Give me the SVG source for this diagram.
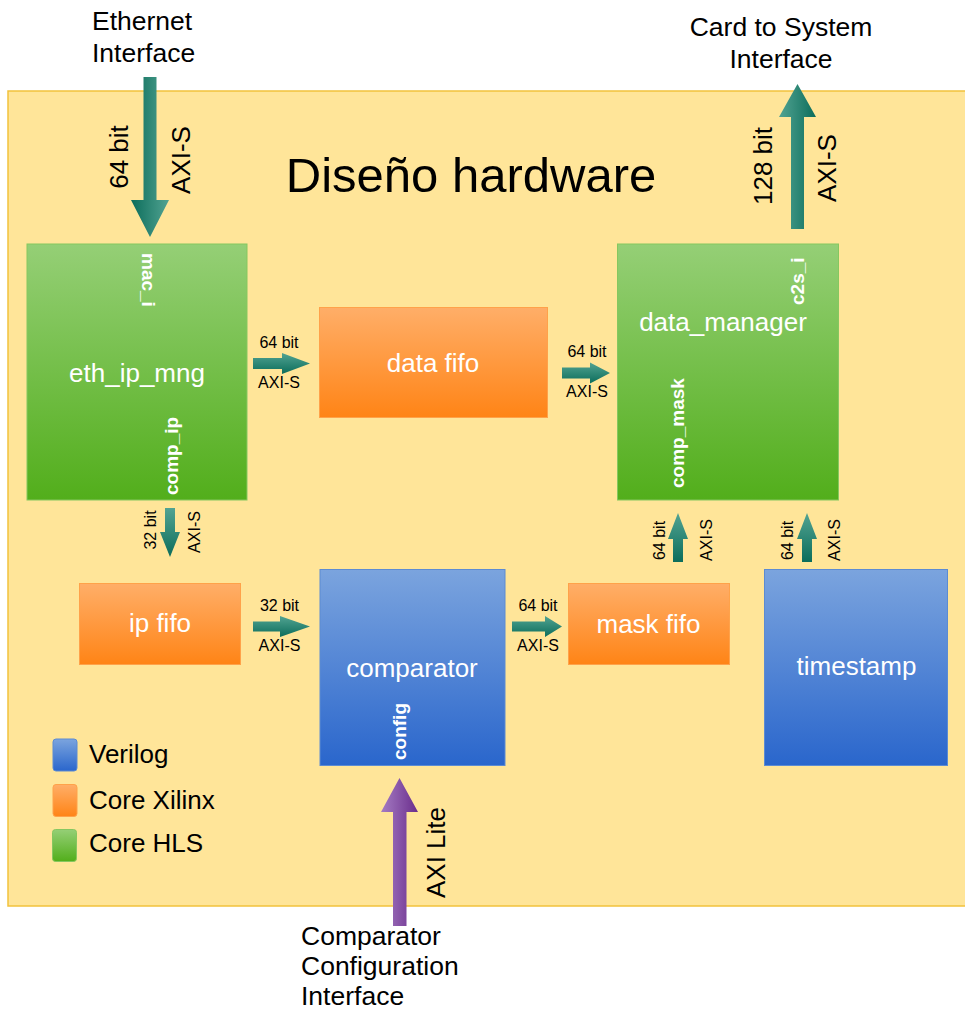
<svg xmlns="http://www.w3.org/2000/svg" width="965" height="1012" viewBox="0 0 965 1012">
<defs>
<linearGradient id="gGreen" x1="0" y1="0" x2="0" y2="1"><stop offset="0" stop-color="#95cf76"/><stop offset="1" stop-color="#52ae1b"/></linearGradient>
<linearGradient id="gOrange" x1="0" y1="0" x2="0" y2="1"><stop offset="0" stop-color="#ffae68"/><stop offset="1" stop-color="#ff8416"/></linearGradient>
<linearGradient id="gBlue" x1="0" y1="0" x2="0" y2="1"><stop offset="0" stop-color="#7ba4de"/><stop offset="1" stop-color="#2a66cc"/></linearGradient>
<linearGradient id="tV" x1="0" y1="0" x2="0" y2="1"><stop offset="0" stop-color="#52a392"/><stop offset="1" stop-color="#0c6d5b"/></linearGradient>
<linearGradient id="tLD" x1="0" y1="0" x2="1" y2="0"><stop offset="0" stop-color="#0c6d5b"/><stop offset="1" stop-color="#52a392"/></linearGradient>
<linearGradient id="tLL" x1="0" y1="0" x2="1" y2="0"><stop offset="0" stop-color="#52a392"/><stop offset="1" stop-color="#0c6d5b"/></linearGradient>
<linearGradient id="pLL" x1="0" y1="0" x2="1" y2="0"><stop offset="0" stop-color="#a57cc3"/><stop offset="1" stop-color="#6a2d8c"/></linearGradient>
</defs>
<style>
text{font-family:"Liberation Sans",Arial,sans-serif;}
.ext{font-size:26.5px;fill:#000;}
.lbl{font-size:26px;fill:#fff;}
.port{font-size:19px;font-weight:bold;fill:#fff;}
.sm{font-size:16px;fill:#000;}
.big{font-size:26px;fill:#000;}
.hls{fill:url(#gGreen);stroke:#86c760;stroke-width:1;}
.xil{fill:url(#gOrange);stroke:#ffa24a;stroke-width:1;}
.ver{fill:url(#gBlue);stroke:#5c8bd2;stroke-width:1;}
</style>
<rect x="8" y="91" width="965" height="815" fill="#ffe599" stroke="#f2c23c" stroke-width="1.5"/>
<text x="471" y="192" font-size="49" fill="#000" text-anchor="middle" style="font-size:49px">Diseño hardware</text>

<g id="ext-ethernet">
<text class="ext" x="92" y="30">Ethernet</text>
<text class="ext" x="92" y="62">Interface</text>
</g>
<g id="ext-c2s">
<text class="ext" x="781" y="36" text-anchor="middle">Card to System</text>
<text class="ext" x="781" y="68" text-anchor="middle">Interface</text>
</g>
<g id="ext-config">
<text class="ext" x="301" y="945">Comparator</text>
<text class="ext" x="301" y="975">Configuration</text>
<text class="ext" x="301" y="1005">Interface</text>
</g>

<g id="eth_ip_mng">
<rect class="hls" x="27" y="244" width="220" height="256"/>
<text class="lbl" x="137" y="382" text-anchor="middle">eth_ip_mng</text>
<text class="port" transform="translate(141.5,253) rotate(90)">mac_i</text>
<text class="port" transform="translate(177.5,495) rotate(-90)">comp_ip</text>
</g>
<g id="data_fifo">
<rect class="xil" x="319.5" y="307.5" width="228" height="110"/>
<text class="lbl" x="433" y="372" text-anchor="middle">data fifo</text>
</g>
<g id="data_manager">
<rect class="hls" x="617.5" y="244" width="221" height="256"/>
<text class="lbl" x="723" y="331" text-anchor="middle">data_manager</text>
<text class="port" transform="translate(803.5,305) rotate(-90)">c2s_i</text>
<text class="port" transform="translate(683.5,488) rotate(-90)">comp_mask</text>
</g>
<g id="ip_fifo">
<rect class="xil" x="79.5" y="583.5" width="161" height="81"/>
<text class="lbl" x="160" y="632" text-anchor="middle">ip fifo</text>
</g>
<g id="comparator">
<rect class="ver" x="320" y="569.5" width="185" height="196"/>
<text class="lbl" x="412" y="677" text-anchor="middle">comparator</text>
<text class="port" transform="translate(405.5,760) rotate(-90)">config</text>
</g>
<g id="mask_fifo">
<rect class="xil" x="568.5" y="583.5" width="161" height="81"/>
<text class="lbl" x="648.5" y="633" text-anchor="middle">mask fifo</text>
</g>
<g id="timestamp">
<rect class="ver" x="764.5" y="569.5" width="183" height="196"/>
<text class="lbl" x="856.5" y="675" text-anchor="middle">timestamp</text>
</g>

<g id="legend">
<rect x="53" y="739" width="24" height="32" rx="3" class="ver"/>
<rect x="53" y="784.5" width="24" height="32" rx="3" class="xil"/>
<rect x="52.5" y="829.5" width="24" height="32" rx="3" class="hls"/>
<text class="big" x="89" y="763">Verilog</text>
<text class="big" x="89" y="809">Core Xilinx</text>
<text class="big" x="89" y="852">Core HLS</text>
</g>

<g id="connectors">
<polygon fill="url(#tLD)" points="143.5,77 156.5,77 156.5,200 169,200 150,237 131,200 143.5,200"/>
<text class="big" transform="translate(128.3,157) rotate(-90)" text-anchor="middle">64 bit</text>
<text class="big" transform="translate(190,160) rotate(-90)" text-anchor="middle">AXI-S</text>

<polygon fill="url(#tLL)" points="791,229 804,229 804,117 816,117 797.5,84 779,117 791,117"/>
<text class="big" transform="translate(771.7,166) rotate(-90)" text-anchor="middle">128 bit</text>
<text class="big" transform="translate(836,168) rotate(-90)" text-anchor="middle">AXI-S</text>

<polygon fill="url(#tV)" points="253,358 282,358 282,353 310,363.5 282,374 282,369 253,369"/>
<text class="sm" x="279" y="348" text-anchor="middle">64 bit</text>
<text class="sm" x="279" y="388" text-anchor="middle">AXI-S</text>

<polygon fill="url(#tV)" points="562,367.5 590,367.5 590,362.5 610,373 590,383.5 590,378.5 562,378.5"/>
<text class="sm" x="587" y="357" text-anchor="middle">64 bit</text>
<text class="sm" x="587" y="397" text-anchor="middle">AXI-S</text>

<polygon fill="url(#tV)" points="165,508 175,508 175,532 180,532 170,557 160,532 165,532"/>
<text class="sm" transform="translate(156,530) rotate(-90)" text-anchor="middle">32 bit</text>
<text class="sm" transform="translate(200,532) rotate(-90)" text-anchor="middle">AXI-S</text>

<polygon fill="url(#tV)" points="253,621.5 280,621.5 280,616 310,626.5 280,637 280,631.5 253,631.5"/>
<text class="sm" x="279.5" y="611" text-anchor="middle">32 bit</text>
<text class="sm" x="279.5" y="651" text-anchor="middle">AXI-S</text>

<polygon fill="url(#tV)" points="512,621.5 545,621.5 545,616 562,626.5 545,637 545,631.5 512,631.5"/>
<text class="sm" x="538" y="611" text-anchor="middle">64 bit</text>
<text class="sm" x="538" y="651" text-anchor="middle">AXI-S</text>

<polygon fill="url(#tV)" points="673,562 683,562 683,539 688,539 678,513 668,539 673,539"/>
<text class="sm" transform="translate(665,540.5) rotate(-90)" text-anchor="middle">64 bit</text>
<text class="sm" transform="translate(711.5,540) rotate(-90)" text-anchor="middle">AXI-S</text>

<polygon fill="url(#tV)" points="802,562 812,562 812,539 817,539 807,513 797,539 802,539"/>
<text class="sm" transform="translate(793.3,540.5) rotate(-90)" text-anchor="middle">64 bit</text>
<text class="sm" transform="translate(840,540) rotate(-90)" text-anchor="middle">AXI-S</text>

<polygon fill="url(#pLL)" points="393,926 406.5,926 406.5,812 418,812 399.5,778 381,812 393,812"/>
<text class="big" transform="translate(445,852.5) rotate(-90)" text-anchor="middle">AXI Lite</text>
</g>
</svg>
